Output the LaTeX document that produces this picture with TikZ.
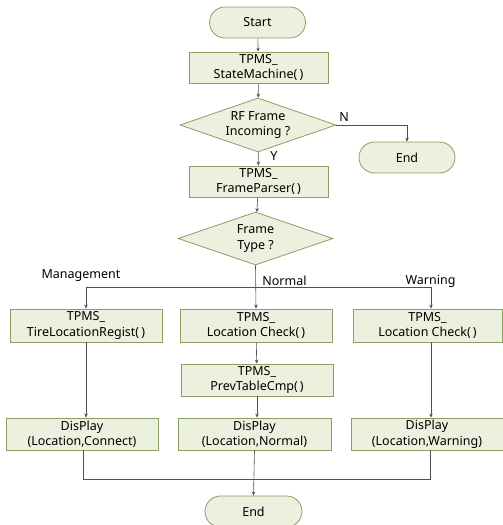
\documentclass[tikz,border=0pt]{standalone}
\usepackage{fontspec}
\setmainfont{Noto Sans}
\usetikzlibrary{shapes.geometric,arrows.meta,calc}
\definecolor{boxfill}{RGB}{235,241,222}
\definecolor{boxdraw}{RGB}{140,158,100}
\definecolor{linec}{RGB}{80,80,80}
\begin{document}
\begin{tikzpicture}[x=1pt,y=-1pt,
  every node/.style={font=\fontsize{12.5}{15.5}\selectfont, inner sep=0pt, align=center},
  proc/.style={draw=boxdraw, fill=boxfill, line width=0.8pt, minimum width=#1, minimum height=32},
  proc/.default=152,
  term/.style={draw=boxdraw, fill=boxfill, line width=0.8pt, minimum width=96, minimum height=31, rounded corners=15.5pt},
  dec/.style={draw=boxdraw, fill=boxfill, line width=0.8pt, diamond, aspect=2.9, minimum width=156, minimum height=54},
  conn/.style={draw=linec, line width=0.6pt},
  arr/.style={conn, -{Stealth[length=4pt,width=3.5pt]}},
  lab/.style={font=\fontsize{12.5}{14}\selectfont}]
\useasboundingbox (0,0) rectangle (503,525);
\node[term] (start) at (257.5,22.5) {Start};
\node[proc=139, minimum height=31] (sm) at (258.5,67.5) {TPMS\_\\StateMachine(\,)};
\node[dec] (rf) at (258,125) {RF Frame\\Incoming ?};
\node[term] (end1) at (407,157.5) {End};
\node[proc=139, minimum height=31] (fp) at (258.5,181.5) {TPMS\_\\FrameParser(\,)};
\node[dec, minimum width=155, minimum height=53] (ft) at (255.5,238.5) {Frame\\Type ?};
\node[proc, minimum height=33] (b1) at (86,325.5) {TPMS\_\\TireLocationRegist(\,)};
\node[proc, minimum height=33] (b2) at (256,325.5) {TPMS\_\\Location Check(\,)};
\node[proc=149, minimum height=33] (b3) at (427.5,325.5) {TPMS\_\\Location Check(\,)};
\node[proc] (prev) at (257,380) {TPMS\_\\PrevTableCmp(\,)};
\node[proc] (d1) at (82,434) {DisPlay\\(Location,Connect)};
\node[proc=153] (d2) at (254.5,434) {DisPlay\\(Location,Normal)};
\node[proc] (d3) at (427,434) {DisPlay\\(Location,Warning)};
\node[term, minimum width=97] (end2) at (253.5,511.5) {End};
\node[lab] (lm) at (81,276) {Management};
\node[lab] (ln) at (284.5,281) {Normal};
\node[lab] (lw) at (430.5,281) {Warning};
\node[lab] (lN) at (344,117) {N};
\node[lab] (lY) at (274,156) {Y};
\coordinate (j) at (256,287);
\coordinate (m) at (255,479);
\draw[arr] (start) -- (sm);
\draw[arr] (sm) -- (rf);
\draw[arr] (rf.east) -| (end1.north);
\draw[arr] (rf) -- (fp);
\draw[arr] (fp) -- (ft);
\draw[arr] (ft.south) -- (b2.north);
\draw[arr] (j) -| (b1.north);
\draw[arr] (j) -| ([xshift=3.5pt]b3.north);
\draw[arr] (b1.south) -- (b1.south |- d1.north);
\draw[arr] (b2) -- (prev);
\draw[arr] (prev) -- (prev.south |- d2.north);
\draw[arr] ([xshift=3.5pt]b3.south) -- ([xshift=3.5pt]b3.south |- d3.north);
\draw[conn] ([xshift=1pt]d1.south) -- ([xshift=1pt]d1.south |- m) -- ([xshift=3pt]d3.south |- m) -- ([xshift=3pt]d3.south);
\draw[arr] (d2.south) -- (end2.north);
\end{tikzpicture}
\end{document}
